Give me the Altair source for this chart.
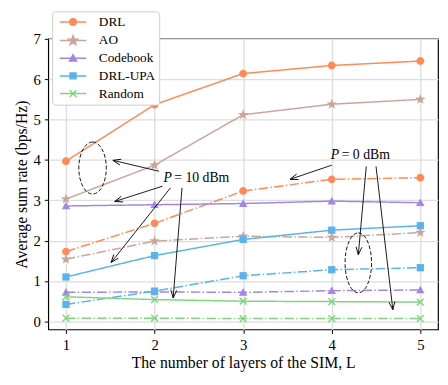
import math
import altair as alt
import pandas as pd

# ---------------- data ----------------
layers = [1, 2, 3, 4, 5]
methods = ["DRL", "AO", "Codebook", "DRL-UPA", "Random"]
colors = ["#FF8A57", "#C9A69B", "#A385E8", "#5AB3EA", "#7FD67C"]
powers = ["10 dBm", "0 dBm"]

drl_10dbm = [3.97, 5.37, 6.14, 6.34, 6.45]
ao_10dbm = [3.03, 3.87, 5.12, 5.38, 5.50]
codebook_10dbm = [2.86, 2.89, 2.92, 2.98, 2.94]
drlupa_10dbm = [1.10, 1.63, 2.03, 2.26, 2.37]
random_10dbm = [0.61, 0.54, 0.50, 0.49, 0.48]

drl_0dbm = [1.73, 2.43, 3.23, 3.52, 3.56]
ao_0dbm = [1.54, 1.99, 2.11, 2.08, 2.20]
codebook_0dbm = [0.72, 0.73, 0.72, 0.76, 0.78]
drlupa_0dbm = [0.42, 0.75, 1.13, 1.28, 1.33]
random_0dbm = [0.08, 0.08, 0.07, 0.07, 0.07]

# annotation anchors (data coordinates)
ellipse_L = [1.30, 4.30]
ellipse_rate = [3.80, 1.45]
arrow_L_from = [2.05, 2.09, 2.18, 2.31, 4.00, 4.39, 4.50]
arrow_rate_from = [3.72, 3.35, 3.31, 3.31, 3.87, 3.84, 3.84]
arrow_L_to = [1.53, 1.55, 1.51, 2.21, 3.53, 4.30, 4.69]
arrow_rate_to = [3.99, 2.97, 1.46, 0.58, 3.52, 1.65, 0.29]
label_L = [2.10, 3.99]
label_rate = [3.55, 4.13]
label_italic = ["P", "P"]
label_rest = ["= 10 dBm", "= 0 dBm"]

x_domain = [0.8, 5.2]
y_domain = [-0.2, 7]
W, H = 397, 296
FONT = "Liberation Serif"

series_10 = [drl_10dbm, ao_10dbm, codebook_10dbm, drlupa_10dbm, random_10dbm]
series_0 = [drl_0dbm, ao_0dbm, codebook_0dbm, drlupa_0dbm, random_0dbm]

rows = []
for m, s10, s0 in zip(methods, series_10, series_0):
    for L, v in zip(layers, s10):
        rows.append({"L": L, "rate": v, "method": m, "power": powers[0]})
    for L, v in zip(layers, s0):
        rows.append({"L": L, "rate": v, "method": m, "power": powers[1]})
df = pd.DataFrame(rows)

# ---------------- marker paths (pixel units with size=4) ----------------
def f(v):
    return f"{v:.2f}"

def circle_path(r, cx=0.0):
    k = 0.5523 * r
    return (f"M{f(cx + r)},0 C{f(cx + r)},{f(k)} {f(cx + k)},{f(r)} {f(cx)},{f(r)} "
            f"C{f(cx - k)},{f(r)} {f(cx - r)},{f(k)} {f(cx - r)},0 "
            f"C{f(cx - r)},{f(-k)} {f(cx - k)},{f(-r)} {f(cx)},{f(-r)} "
            f"C{f(cx + k)},{f(-r)} {f(cx + r)},{f(-k)} {f(cx + r)},0 Z")

def ellipse_path(rx, ry):
    kx, ky = 0.5523 * rx, 0.5523 * ry
    return (f"M0,{f(-ry)} C{f(kx)},{f(-ry)} {f(rx)},{f(-ky)} {f(rx)},0 "
            f"C{f(rx)},{f(ky)} {f(kx)},{f(ry)} 0,{f(ry)} "
            f"C{f(-kx)},{f(ry)} {f(-rx)},{f(ky)} {f(-rx)},0 "
            f"C{f(-rx)},{f(-ky)} {f(-kx)},{f(-ry)} 0,{f(-ry)} Z")

def star_path(R, r, cx=0.0):
    pts = []
    for i in range(10):
        a = -math.pi / 2 + i * math.pi / 5
        rad = R if i % 2 == 0 else r
        pts.append((cx + rad * math.cos(a), rad * math.sin(a)))
    return "M" + " L".join(f"{f(x)},{f(y)}" for x, y in pts) + " Z"

def tri_path(s, cx=0.0):
    return f"M{f(cx)},{f(-s)} L{f(cx + s)},{f(0.8 * s)} L{f(cx - s)},{f(0.8 * s)} Z"

def square_path(h, cx=0.0):
    return f"M{f(cx - h)},{f(-h)} L{f(cx + h)},{f(-h)} L{f(cx + h)},{f(h)} L{f(cx - h)},{f(h)} Z"

def x_path(h, cx=0.0):
    return f"M{f(cx - h)},{f(-h)} L{f(cx + h)},{f(h)} M{f(cx - h)},{f(h)} L{f(cx + h)},{f(-h)}"

plot_markers = [circle_path(4.0), star_path(5.6, 2.3), tri_path(4.3), square_path(3.7), x_path(3.4)]

LX0, LX1 = -3.0, 24.0
LC = (LX0 + LX1) / 2
line_seg = f"M{f(LX0)},0 L{f(LX1)},0 "
legend_paths = [
    line_seg + circle_path(3.3, LC),
    line_seg + star_path(4.9, 2.0, LC),
    line_seg + tri_path(3.6, LC),
    line_seg + square_path(3.0, LC),
    line_seg + x_path(3.4, LC),
]

# ---------------- annotation frames ----------------
px_x = W / (x_domain[1] - x_domain[0])
px_y = H / (y_domain[1] - y_domain[0])
angles = []
for x0, y0, x1, y1 in zip(arrow_L_from, arrow_rate_from, arrow_L_to, arrow_rate_to):
    dx = (x1 - x0) * px_x
    dy = -(y1 - y0) * px_y
    angles.append(math.degrees(math.atan2(dx, -dy)) % 360)

arrows_df = pd.DataFrame({"L": arrow_L_from, "rate": arrow_rate_from,
                          "L2": arrow_L_to, "rate2": arrow_rate_to})
heads_df = pd.DataFrame({"L": arrow_L_to, "rate": arrow_rate_to, "angle": angles})
ell_df = pd.DataFrame({"L": ellipse_L, "rate": ellipse_rate, "idx": [0, 1]})
ell_shapes = [ellipse_path(14, 26.5), ellipse_path(13.5, 30.5)]
lab_df = pd.DataFrame({"L": label_L, "rate": label_rate,
                       "it": label_italic, "rest": label_rest})

# ---------------- encodings ----------------
x_enc = alt.X("L:Q", scale=alt.Scale(domain=x_domain, nice=False, zero=False),
              axis=alt.Axis(values=layers, format="d",
                            title="The number of layers of the SIM, L"))
y_enc = alt.Y("rate:Q", scale=alt.Scale(domain=y_domain, nice=False, zero=False),
              axis=alt.Axis(values=list(range(0, 8)), format="d",
                            title="Average sum rate (bps/Hz)"))
dash_enc = alt.StrokeDash("power:N",
                          scale=alt.Scale(domain=powers, range=[[1, 0], [9.6, 2.4, 1.5, 2.4]]),
                          legend=None)

base = alt.Chart(df)

series_layers = []
for m, c, p in zip(methods, colors, plot_markers):
    sub = base.transform_filter(alt.datum.method == m)
    series_layers.append(
        sub.mark_line(strokeWidth=1.5, color=c).encode(
            x=x_enc, y=y_enc, strokeDash=dash_enc, detail="power:N")
    )
for m, c, p in zip(methods, colors, plot_markers):
    sub = base.transform_filter(alt.datum.method == m)
    is_x = (m == "Random")
    series_layers.append(
        sub.mark_point(shape=p, size=4, filled=not is_x, color=c,
                       opacity=1, strokeWidth=1.5).encode(x=x_enc, y=y_enc)
    )

leg = alt.Legend(title=None, orient="none", legendX=4, legendY=-28,
                 symbolSize=4, symbolStrokeWidth=1.5, labelOffset=30,
                 labelFont=FONT, labelFontSize=13.5, labelColor="black",
                 padding=4, rowPadding=3, strokeColor="#cccccc", fillColor="white",
                 cornerRadius=3, symbolOpacity=1, labelBaseline="middle")
legend_layer = base.transform_filter("datum.rate > 100").mark_point(
    size=4, opacity=1, strokeWidth=1.5
).encode(
    x=x_enc, y=y_enc,
    fill=alt.Fill("method:N", scale=alt.Scale(domain=methods, range=colors), legend=leg),
    stroke=alt.Stroke("method:N", scale=alt.Scale(domain=methods, range=colors), legend=leg),
    shape=alt.Shape("method:N", scale=alt.Scale(domain=methods, range=legend_paths), legend=leg),
)

ellipse_layers = [
    alt.Chart(ell_df).transform_filter(alt.datum.idx == i).mark_point(
        shape=s, size=4, filled=False, color="black", opacity=1,
        strokeWidth=0.9, strokeDash=[4, 2]
    ).encode(x=x_enc, y=y_enc)
    for i, s in enumerate(ell_shapes)
]

shafts = alt.Chart(arrows_df).mark_rule(color="black", strokeWidth=0.9).encode(
    x=x_enc, y=y_enc, x2="L2:Q", y2="rate2:Q")

heads = alt.Chart(heads_df).mark_point(
    shape="M-3,8 L0,0 L3,8", size=4, filled=False, color="black", opacity=1, strokeWidth=0.9
).encode(x=x_enc, y=y_enc, angle=alt.Angle("angle:Q", scale=None))

txt_it = alt.Chart(lab_df).mark_text(
    font=FONT, fontSize=14, fontStyle="italic", align="left", baseline="middle", color="black"
).encode(x=x_enc, y=y_enc, text="it:N")
txt_rest = alt.Chart(lab_df).mark_text(
    font=FONT, fontSize=14, align="left", baseline="middle", dx=11, color="black"
).encode(x=x_enc, y=y_enc, text="rest:N")

chart = alt.layer(
    *series_layers, *ellipse_layers, shafts, heads, txt_it, txt_rest, legend_layer
).properties(
    width=W, height=H,
    autosize=alt.AutoSizeParams(type="none"),
    padding={"left": 41, "top": 28, "right": 2, "bottom": 45},
).configure(
    style={"guide-label": {"font": FONT, "fontSize": 13.5, "fill": "black"}}
).configure_axis(
    labelFont=FONT, titleFont=FONT, labelFontSize=15, titleFontSize=16,
    labelColor="black", titleColor="black", titleFontWeight="normal",
    tickColor="black", tickSize=4, tickWidth=1, domain=False,
    gridColor="#dedede", gridWidth=1.4, labelPadding=4,
).configure_axisX(titlePadding=3).configure_axisY(titlePadding=4).configure_legend(
    labelFont=FONT, labelFontSize=13.5, labelColor="black"
).configure_view(
    stroke="black", strokeWidth=1.2
)

chart.save("out.html", embed_options={"renderer": "svg", "actions": False})
